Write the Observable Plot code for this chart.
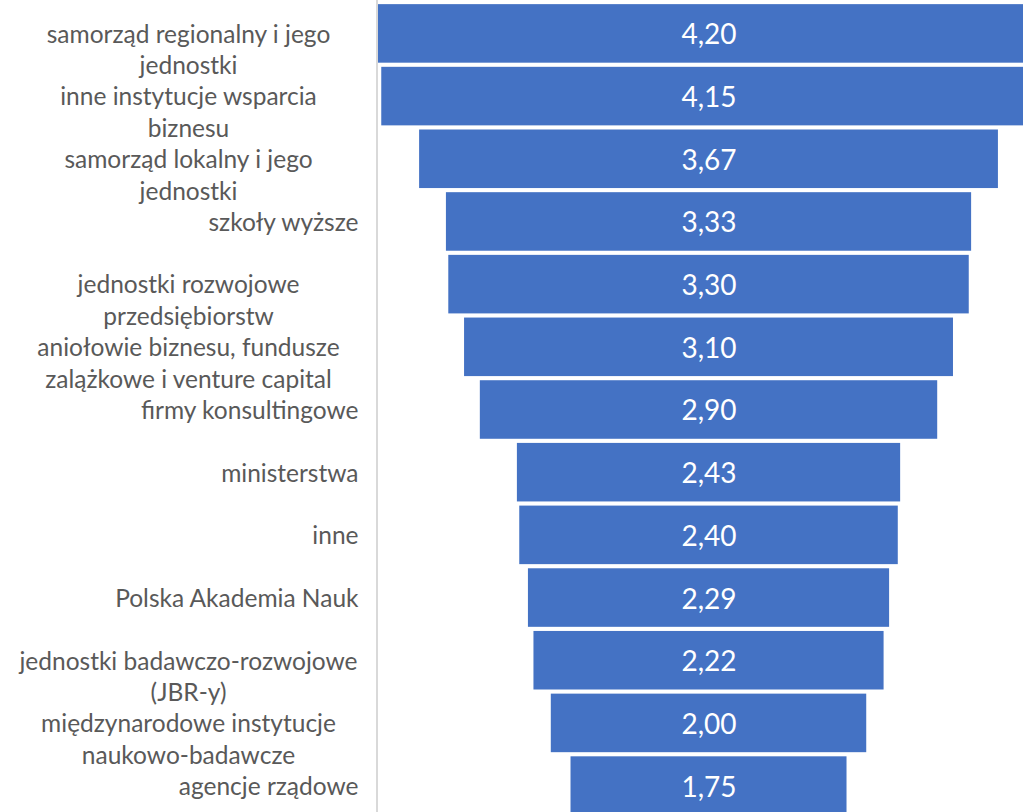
<!DOCTYPE html>
<html>
<head>
<meta charset="utf-8">
<script src="https://cdn.jsdelivr.net/npm/d3@7"></script>
<script src="https://cdn.jsdelivr.net/npm/@observablehq/plot@0.6"></script>
<style>
  html, body { margin: 0; padding: 0; background: #fff; overflow: hidden; }
  #chart { width: 1023px; height: 812px; overflow: hidden; }
</style>
</head>
<body>
<div id="chart"></div>
<script>
// Category labels ("\n" marks where the original label wraps)
const categories = [
  "samorząd regionalny i jego\njednostki",
  "inne instytucje wsparcia\nbiznesu",
  "samorząd lokalny i jego\njednostki",
  "szkoły wyższe",
  "jednostki rozwojowe\nprzedsiębiorstw",
  "aniołowie biznesu, fundusze\nzalążkowe i venture capital",
  "firmy konsultingowe",
  "ministerstwa",
  "inne",
  "Polska Akademia Nauk",
  "jednostki badawczo-rozwojowe\n(JBR-y)",
  "międzynarodowe instytucje\nnaukowo-badawcze",
  "agencje rządowe"
];
const values = [4.20, 4.15, 3.67, 3.33, 3.30, 3.10, 2.90, 2.43, 2.40, 2.29, 2.22, 2.00, 1.75];

const data = categories.map((c, i) => ({cat: c, value: values[i]}));
const lines = data.flatMap(d => {
  const parts = d.cat.split("\n");
  return parts.map((t, i) => ({cat: d.cat, text: t, i, n: parts.length}));
});
const fmt = v => v.toFixed(2).replace(".", ",");

const xLeft = -2.102, xRight = 1.994;
const font = "Lato, 'Open Sans', sans-serif";
const labelSize = 24.5;

const chart = Plot.plot({
  width: 1023,
  height: 819,
  marginLeft: 377,
  marginRight: 0,
  marginTop: 0,
  marginBottom: 0,
  style: {fontFamily: font, background: "#fff"},
  x: {domain: [xLeft, xRight], axis: null},
  y: {domain: categories, padding: 0.066, round: false, axis: null},
  marks: [
    Plot.barX(data, {
      y: "cat",
      x1: d => -d.value / 2,
      x2: d => d.value / 2,
      fill: "#4472c4",
      clip: true
    }),
    Plot.ruleX([xLeft], {stroke: "#d9d9d9", strokeWidth: 2, dx: -0.5}),
    Plot.text(data, {
      y: "cat",
      x: 0,
      dy: 1.5,
      text: d => fmt(d.value),
      fill: "white",
      fontSize: 28
    }),
    Plot.text(lines.filter(d => d.n === 1), {
      y: "cat",
      x: xLeft,
      dx: -19,
      dy: 1,
      text: "text",
      textAnchor: "end",
      fill: "#595959",
      fontSize: labelSize
    }),
    Plot.text(lines.filter(d => d.n > 1 && d.i === 0), {
      y: "cat",
      x: xLeft,
      dx: -189,
      dy: 1,
      text: "text",
      textAnchor: "middle",
      fill: "#595959",
      fontSize: labelSize
    }),
    Plot.text(lines.filter(d => d.n > 1 && d.i === 1), {
      y: "cat",
      x: xLeft,
      dx: -189,
      dy: 32.5,
      text: "text",
      textAnchor: "middle",
      fill: "#595959",
      fontSize: labelSize
    })
  ]
});
document.getElementById("chart").appendChild(chart);
</script>
</body>
</html>
